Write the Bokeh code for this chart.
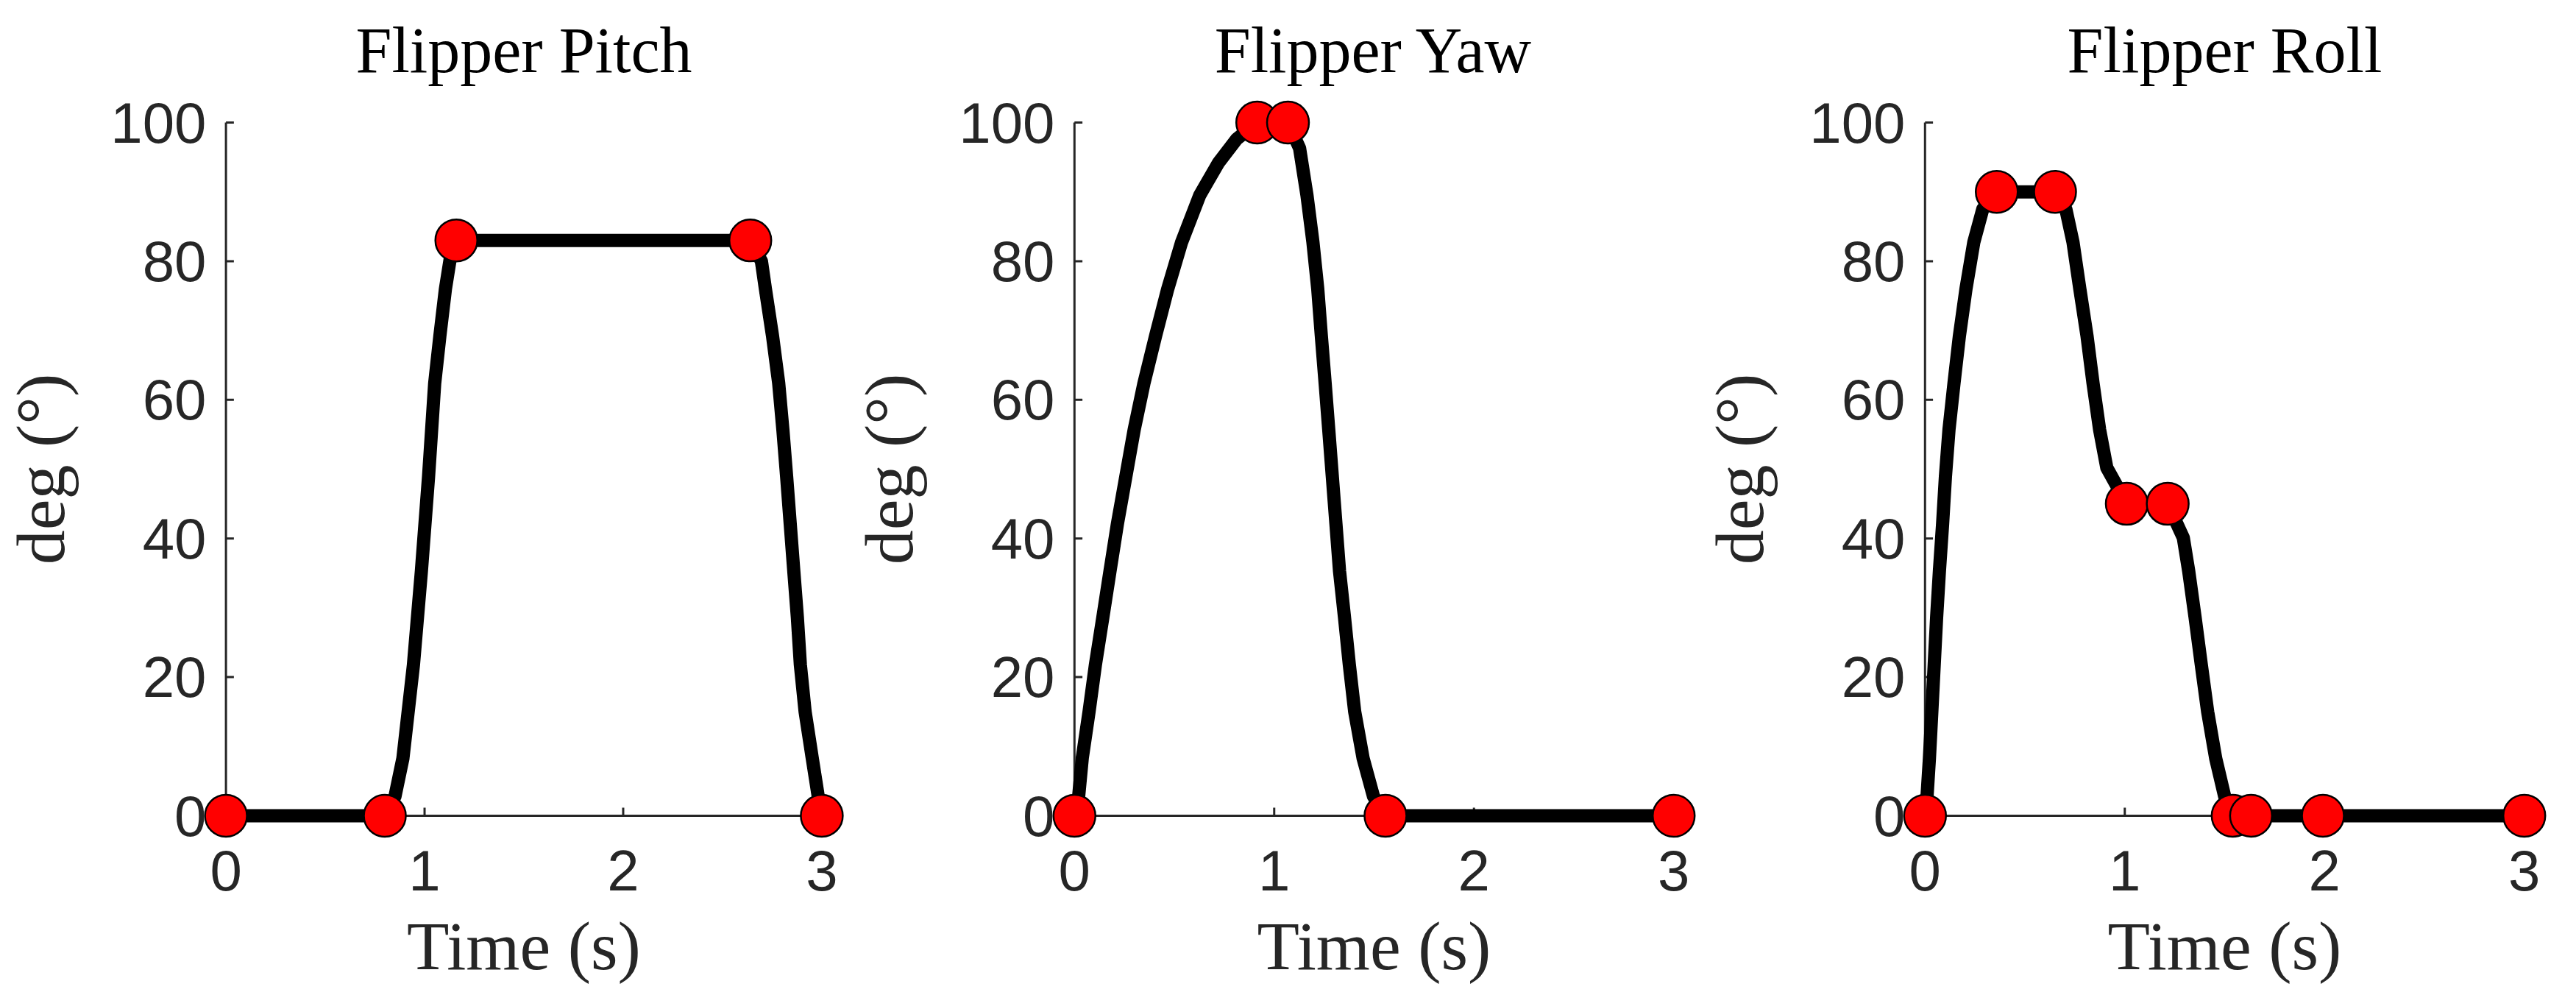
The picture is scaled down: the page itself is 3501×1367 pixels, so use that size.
from bokeh.plotting import figure
from bokeh.layouts import row, column
from bokeh.models import Range1d, FixedTicker
from bokeh.core.properties import value
from bokeh.embed import file_html
from bokeh.resources import INLINE

# ---------------- data ----------------
titles = ["Flipper Pitch", "Flipper Yaw", "Flipper Roll"]
x_label = "Time (s)"
y_label = "deg (°)"
x_ticks = [0, 1, 2, 3]
y_ticks = [0, 20, 40, 60, 80, 100]

pitch_curve_t = [0, 0.80, 0.851, 0.891, 0.944, 0.984, 1.020, 1.051, 1.077, 1.105, 1.130, 1.16,
                 2.64, 2.696, 2.716, 2.752, 2.783, 2.804, 2.823, 2.841, 2.859, 2.877, 2.892,
                 2.916, 2.952, 2.982, 3.0]
pitch_curve_deg = [0, 0, 2.8, 8.3, 21.8, 35.3, 48.9, 62.4, 69.2, 76.0, 80.5, 83,
                   83, 80.0, 76.0, 69.2, 62.4, 55.7, 48.9, 42.1, 35.3, 28.6, 21.8,
                   15.0, 8.3, 2.8, 0]
pitch_way_t = [0, 0.80, 1.16, 2.64, 3.0]
pitch_way_deg = [0, 0, 83, 83, 0]

yaw_curve_t = [0, 0.021, 0.039, 0.073, 0.105, 0.142, 0.178, 0.215, 0.257, 0.299, 0.348, 0.406,
               0.467, 0.536, 0.627, 0.721, 0.812, 0.915, 1.069, 1.127, 1.164, 1.194, 1.218,
               1.236, 1.255, 1.273, 1.291, 1.309, 1.327, 1.352, 1.376, 1.403, 1.445, 1.497,
               1.557, 3.0]
yaw_curve_deg = [0, 2.8, 8.3, 15.0, 21.8, 28.6, 35.3, 42.1, 48.9, 55.7, 62.4, 69.2,
                 76.0, 82.7, 89.5, 94.2, 97.6, 100, 100, 96.3, 89.5, 82.7, 76.0,
                 69.2, 62.4, 55.7, 48.9, 42.1, 35.3, 28.6, 21.8, 15.0, 8.3, 2.8,
                 0, 0]
yaw_way_t = [0, 0.915, 1.069, 1.557, 3.0]
yaw_way_deg = [0, 100, 100, 0, 0]

roll_curve_t = [0, 0.010, 0.022, 0.034, 0.046, 0.058, 0.072, 0.088, 0.102, 0.120, 0.145, 0.172,
                0.205, 0.244, 0.289, 0.359, 0.651, 0.705, 0.741, 0.775, 0.811, 0.841, 0.874,
                0.910, 1.010, 1.215, 1.293, 1.320, 1.352, 1.383, 1.415, 1.455, 1.500, 1.540,
                1.632, 1.992, 3.0]
roll_curve_deg = [0, 2.8, 8.3, 15.0, 21.8, 28.6, 35.3, 42.1, 48.9, 55.7, 62.4, 69.2,
                  76.0, 82.7, 87.5, 90, 90, 87.5, 82.7, 76.0, 69.2, 62.4, 55.7,
                  50.2, 45, 45, 40.1, 35.3, 28.6, 21.8, 15.0, 8.3, 2.8, 0,
                  0, 0, 0]
roll_way_t = [0, 0.359, 0.651, 1.010, 1.215, 1.540, 1.632, 1.992, 3.0]
roll_way_deg = [0, 90, 90, 45, 45, 0, 0, 0, 0]

# ---------------- styling ----------------
PX_T = 275.5          # px per second
PX_DEG = 9.42         # px per degree
FRAME_W = 891
FRAME_H = 1006
TITLE_H = 118         # height of the strip that carries the title
TITLE_BASELINE = 68   # anchor, px from top of the strip
TOP = 16
BOTTOM = 211
XPAD = (FRAME_W - 3 * PX_T) / 2 / PX_T
YPAD = (FRAME_H - 100 * PX_DEG) / 2 / PX_DEG
AX_COLOR = "#262626"
TICK_LEN_T = 11 / PX_T
TICK_LEN_DEG = 11 / PX_DEG


def title_strip(title, x_range, border_left, border_right):
    t = figure(width=border_left + FRAME_W + border_right, height=TITLE_H, title=None,
               min_border=0, min_border_left=border_left, min_border_right=border_right,
               min_border_top=0, min_border_bottom=0,
               x_range=x_range, y_range=Range1d(0, TITLE_H),
               x_axis_location=None, y_axis_location=None,
               output_backend="svg", toolbar_location=None, tools="")
    t.outline_line_color = None
    t.grid.visible = False
    t.text(x=[(x_ticks[0] + x_ticks[-1]) / 2], y=[TITLE_H - TITLE_BASELINE], text=[title],
           text_align="center", text_baseline="alphabetic",
           text_font=value("Liberation Serif"), text_font_size="88px", text_color="black")
    return t


def panel(title, ct, cd, wt, wd, border_left, border_right):
    xr = Range1d(-XPAD, 3 + XPAD)
    p = figure(width=border_left + FRAME_W + border_right, height=TOP + FRAME_H + BOTTOM,
               title=None,
               min_border_left=border_left, min_border_right=border_right,
               min_border_top=TOP, min_border_bottom=BOTTOM,
               x_range=xr, y_range=Range1d(-YPAD, 100 + YPAD),
               output_backend="svg", toolbar_location=None, tools="")
    p.outline_line_color = None
    p.grid.visible = False
    p.background_fill_color = "white"
    p.border_fill_color = "white"

    for ax in (p.xaxis[0], p.yaxis[0]):
        ax.axis_line_color = None
        ax.major_tick_line_color = None
        ax.minor_tick_line_color = None
        ax.major_label_text_font = "Liberation Sans"
        ax.major_label_text_font_size = "78px"
        ax.major_label_text_color = AX_COLOR
        ax.axis_label_text_font = "Liberation Serif"
        ax.axis_label_text_font_style = "normal"
        ax.axis_label_text_font_size = "94px"
        ax.axis_label_text_color = AX_COLOR
        ax.major_tick_out = 0
        ax.major_tick_in = 0
    p.xaxis[0].ticker = FixedTicker(ticks=x_ticks)
    p.yaxis[0].ticker = FixedTicker(ticks=y_ticks)
    p.xaxis[0].axis_label = x_label
    p.yaxis[0].axis_label = y_label
    p.xaxis[0].major_label_standoff = 15
    p.xaxis[0].axis_label_standoff = 20
    p.yaxis[0].major_label_standoff = -5
    p.yaxis[0].axis_label_standoff = 40

    # axis lines at data zero (box off), ticks pointing inward
    p.segment(x0=[x_ticks[0], 0], y0=[0, y_ticks[0]], x1=[x_ticks[-1], 0], y1=[0, y_ticks[-1]],
              line_color=AX_COLOR, line_width=3)
    p.segment(x0=x_ticks, y0=[0] * len(x_ticks), x1=x_ticks, y1=[TICK_LEN_DEG] * len(x_ticks),
              line_color=AX_COLOR, line_width=3)
    p.segment(x0=[0] * len(y_ticks), y0=y_ticks, x1=[TICK_LEN_T] * len(y_ticks), y1=y_ticks,
              line_color=AX_COLOR, line_width=3)

    p.line(ct, cd, line_color="black", line_width=18, line_join="round", line_cap="round")
    p.scatter(wt, wd, marker="circle", size=57, fill_color="#ff0000",
              line_color="black", line_width=2.5)

    return column(title_strip(title, xr, border_left, border_right), p, spacing=0)


c1 = panel(titles[0], pitch_curve_t, pitch_curve_deg, pitch_way_t, pitch_way_deg, 257, 5)
c2 = panel(titles[1], yaw_curve_t, yaw_curve_deg, yaw_way_t, yaw_way_deg, 262, 3)
c3 = panel(titles[2], roll_curve_t, roll_curve_deg, roll_way_t, roll_way_deg, 262, 10)

layout = row(c1, c2, c3, spacing=0)
open("out.html", "w").write(file_html(layout, INLINE))
